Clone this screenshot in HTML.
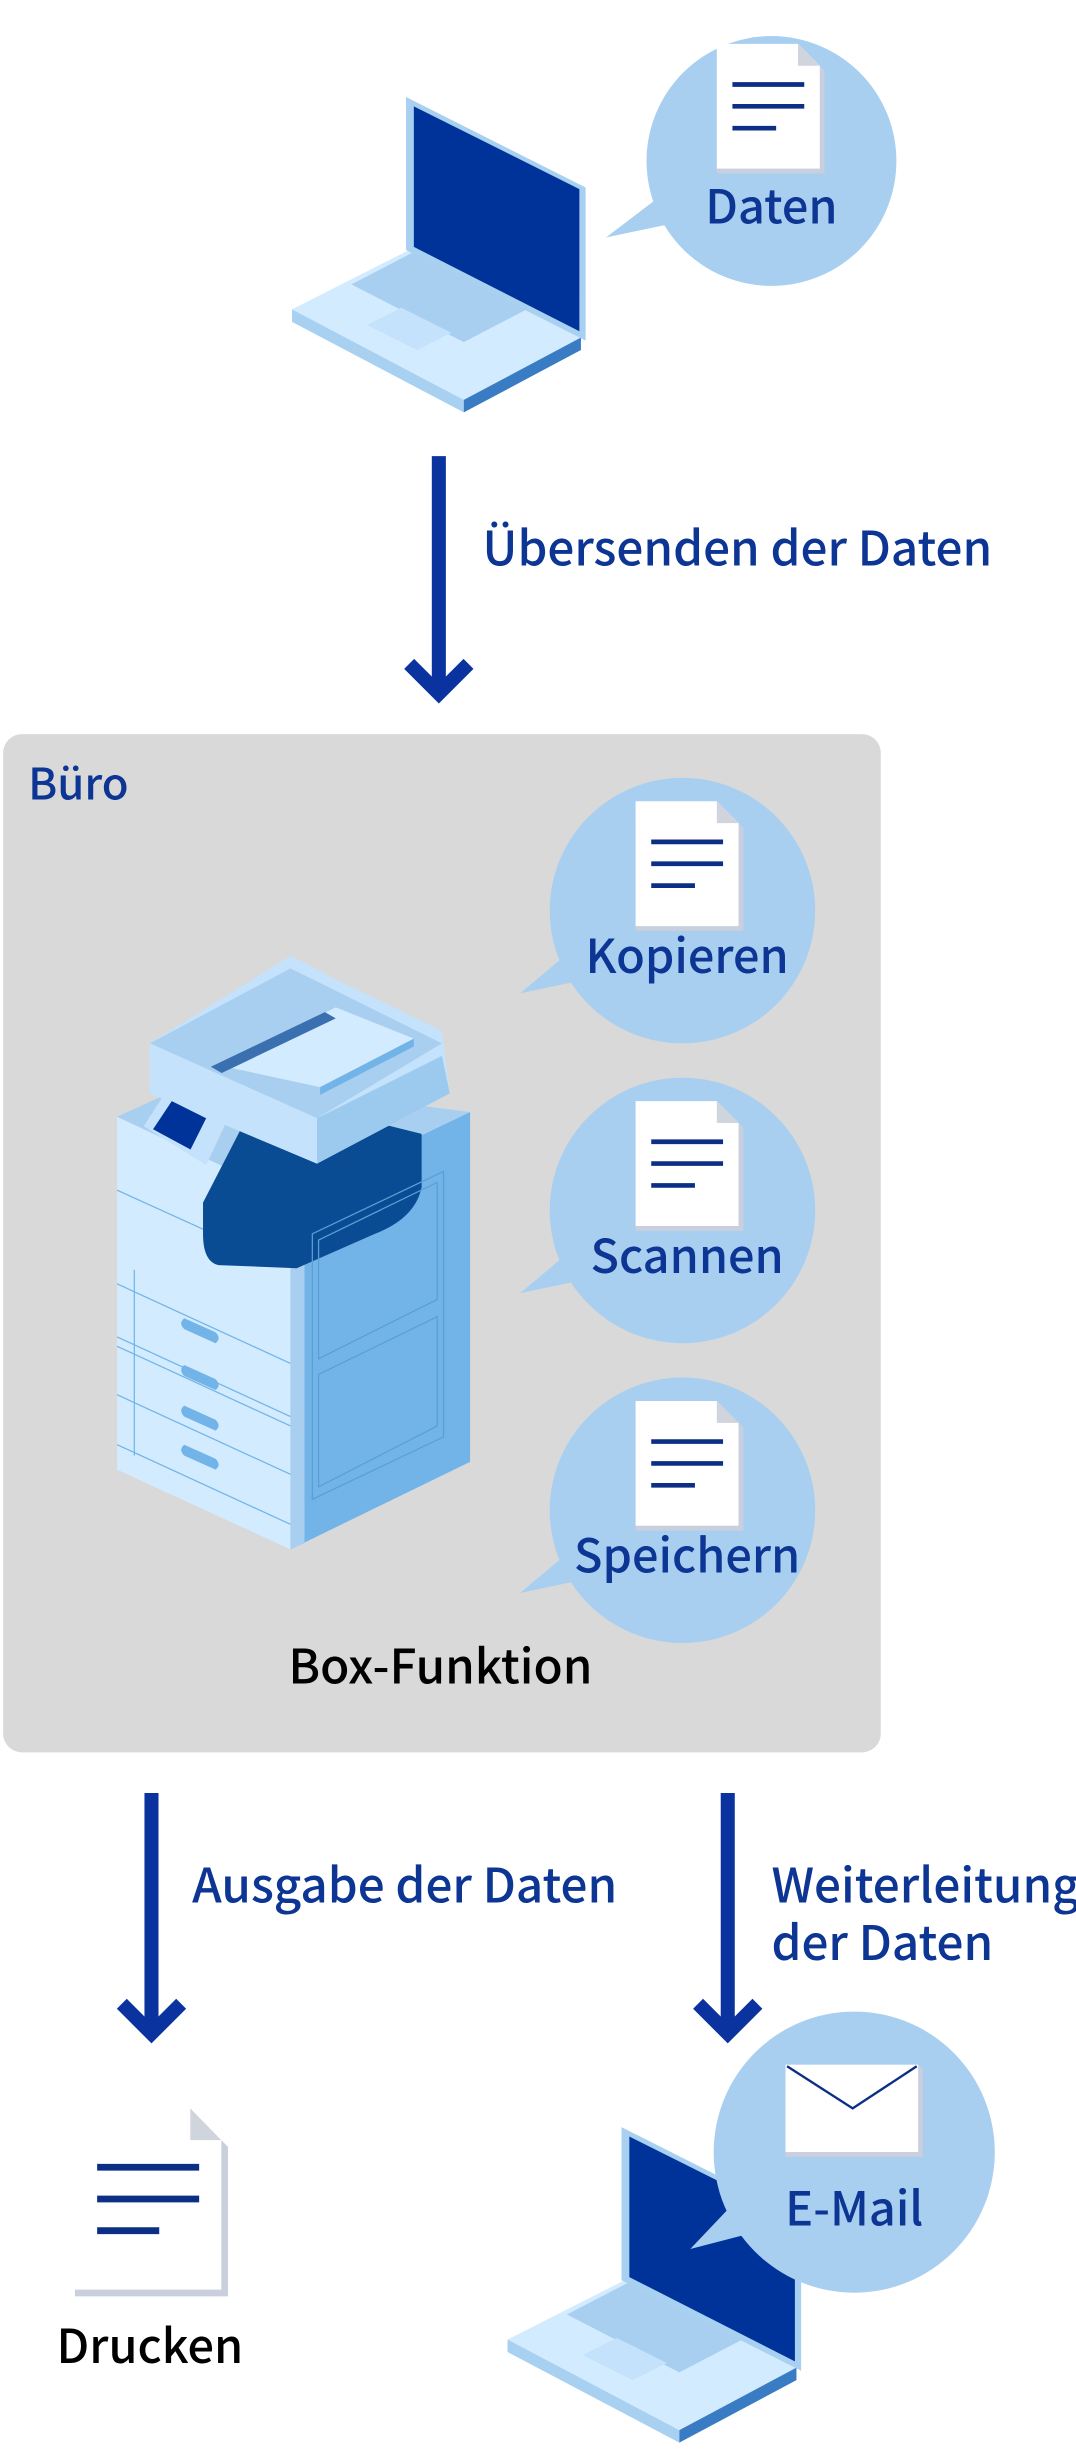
<!DOCTYPE html>
<html><head><meta charset="utf-8"><style>
html,body{margin:0;padding:0;background:#fff;}
svg{display:block;}
text{font-family:"Noto Sans CJK JP","Liberation Sans",sans-serif;font-weight:500;}
</style></head><body>
<svg width="1076" height="2449" viewBox="0 0 689 1568" xmlns="http://www.w3.org/2000/svg">
<defs>
<g id="doc">
 <path d="M0,0 H52 L66,14 V80 H0 Z" fill="#fff"/>
 <path d="M52,0 L66,14 H52 Z" fill="#d0d4dc"/>
 <path d="M66,14 V80 H0 V83 H69 V17 Z" fill="#c9cfdc"/>
 <line x1="10" y1="26" x2="56" y2="26" stroke="#0c2f86" stroke-width="3"/>
 <line x1="10" y1="40" x2="56" y2="40" stroke="#0c2f86" stroke-width="3"/>
 <line x1="10" y1="54" x2="38" y2="54" stroke="#0c2f86" stroke-width="3"/>
</g>
<g id="laptop">
 <path d="M0,38 L75,0 L185,56 L110,96 Z" fill="#d2ebff"/>
 <path d="M0,38 L110,96 L110,104 L0,46 Z" fill="#a8d0f0"/>
 <path d="M110,96 L185,56 L185,64 L110,104 Z" fill="#3a7cc4"/>
 <path d="M38,22 L88,-4 L160,33 L110,59 Z" fill="#a9cff0"/>
 <path d="M48,48 L70,37 L102,53 L80,64 Z" fill="#c4e2fb"/>
 <path d="M73,-98 L188,-40 L188,58 L73,0 Z" fill="#a8d0f0"/>
 <path d="M78,-92 L184,-39 L184,52 L78,-2 Z" fill="#003399"/>
</g>
</defs>

<use href="#laptop" x="187" y="160"/>
<path d="M430,120 L388,152 L445,140 Z" fill="#a9cff0"/>
<circle cx="494" cy="103" r="80" fill="#a9cff0"/>
<use href="#doc" x="459" y="28"/>
<text x="494" y="143" text-anchor="middle" font-size="30" fill="#0c3594">Daten</text>

<g stroke="#0a33a0" stroke-width="9" fill="none">
<line x1="281" y1="292" x2="281" y2="440"/>
<polyline points="262,425 281,444 300,425"/>
</g>
<text x="309" y="362" font-size="30.5" fill="#0c3594">Übersenden der Daten</text>

<rect x="2" y="470" width="562" height="652" rx="12" fill="#d9d9d9"/>
<text x="18" y="512" font-size="28" fill="#0c3594">Büro</text>

<g fill="#a9cff0">
<path d="M370,605 L333,636 L385,625 Z"/><circle cx="437" cy="583" r="85"/>
<path d="M370,797 L333,828 L385,817 Z"/><circle cx="437" cy="775" r="85"/>
<path d="M370,989 L333,1020 L385,1009 Z"/><circle cx="437" cy="967" r="85"/>
</g>
<use href="#doc" x="407" y="513"/>
<use href="#doc" x="407" y="705"/>
<use href="#doc" x="407" y="897"/>
<text x="440" y="623" text-anchor="middle" font-size="30" fill="#0c3594">Kopieren</text>
<text x="440" y="815" text-anchor="middle" font-size="30" fill="#0c3594">Scannen</text>
<text x="440" y="1007" text-anchor="middle" font-size="30" fill="#0c3594">Speichern</text>

<g>
 <path d="M75,715 L186,767 L186,992 L75,941 Z" fill="#d2ebff"/>
 <path d="M186,767 L301,712 L301,936 L186,992 Z" fill="#72b4e8"/>
 <path d="M186,767 L195,763 L195,988 L186,992 Z" fill="#a9cff0"/>
 <path d="M75,715 L130,690 L301,712 L186,767 Z" fill="#a9cff0"/>
 <path d="M166,700 L270,726 L270,760 Q266,780 240,790 L190,812 L140,810 Q130,808 130,790 L130,770 Z" fill="#0a4c94"/>
 <path d="M96,668 L186,612 L217,628 L283,660 L288,700 L203,745 L96,700 Z" fill="#c4e2fb"/>
 <path d="M96,668 L186,620 L283,668 L203,716 Z" fill="#a9cff0"/>
 <path d="M203,716 L283,676 L288,700 L203,745 Z" fill="#9ccaef"/>
 <path d="M96,668 L203,716 L203,745 L96,700 Z" fill="#c4e2fb"/>
 <path d="M140,682 L215,645 L265,665 L205,696 Z" fill="#d2ebff"/>
 <path d="M205,696 L265,665 L265,670 L205,701 Z" fill="#72b4e8"/>
 <path d="M135,683 L208,648 L215,652 L142,687 Z" fill="#3a6fb0"/>
 <path d="M92,721 L107,698 L147,714 L132,746 Z" fill="#c4e2fb"/>
 <path d="M98,723 L110,705 L132,716 L122,736 Z" fill="#003399"/>
 <g stroke="#72b4e8" stroke-width="0.8" fill="none">
  <line x1="75" y1="762" x2="130" y2="787"/>
  <line x1="75" y1="822" x2="186" y2="873"/>
  <line x1="75" y1="856" x2="186" y2="907"/>
  <line x1="75" y1="862" x2="186" y2="913"/>
  <line x1="75" y1="893" x2="186" y2="944"/>
  <line x1="75" y1="925" x2="186" y2="976"/>
  <line x1="86" y1="813" x2="86" y2="932"/>
 </g>
 <g fill="#72b4e8">
  <path d="M118,844 L138,853 Q142,857 138,860 L118,851 Q114,847 118,844 Z"/>
  <path d="M118,874 L138,883 Q142,887 138,890 L118,881 Q114,877 118,874 Z"/>
  <path d="M118,900 L138,909 Q142,913 138,916 L118,907 Q114,903 118,900 Z"/>
  <path d="M118,925 L138,934 Q142,938 138,941 L118,932 Q114,928 118,925 Z"/>
 </g>
 <g stroke="#5a9fd4" stroke-width="0.8" fill="none">
  <path d="M200,790 L284,750 L284,920 L200,960 Z"/>
  <path d="M204,794 L280,757 L280,832 L204,870 Z"/>
  <path d="M204,880 L280,843 L280,913 L204,952 Z"/>
 </g>
</g>
<text x="282" y="1078" text-anchor="middle" font-size="30.5" fill="#000">Box-Funktion</text>

<g stroke="#0a33a0" stroke-width="9" fill="none">
<line x1="97" y1="1148" x2="97" y2="1298"/>
<polyline points="78,1283 97,1302 116,1283"/>
<line x1="466" y1="1148" x2="466" y2="1298"/>
<polyline points="447,1283 466,1302 485,1283"/>
</g>
<text x="123" y="1218" font-size="30.5" fill="#0c3594">Ausgabe der Daten</text>
<text x="494" y="1218" font-size="30.5" fill="#0c3594">Weiterleitung</text>
<text x="494" y="1255" font-size="30.5" fill="#0c3594">der Daten</text>

<g transform="translate(48,1350) scale(1.42,1.45)"><use href="#doc"/></g>
<text x="96" y="1513" text-anchor="middle" font-size="30" font-weight="700" fill="#000">Drucken</text>

<use href="#laptop" x="325" y="1460"/>
<path d="M480,1400 L442,1440 L500,1425 Z" fill="#a9cff0"/>
<circle cx="547" cy="1378" r="90" fill="#a9cff0"/>
<rect x="503" y="1322" width="85" height="56" fill="#fff"/>
<path d="M588,1322 V1378 H503 V1381 H591 V1325 Z" fill="#c9cfdc"/>
<polyline points="504,1323 546,1350 587,1323" fill="none" stroke="#0c2f86" stroke-width="1.5"/>
<text x="547" y="1425" text-anchor="middle" font-size="30" fill="#0c3594">E-Mail</text>
</svg>
</body></html>
